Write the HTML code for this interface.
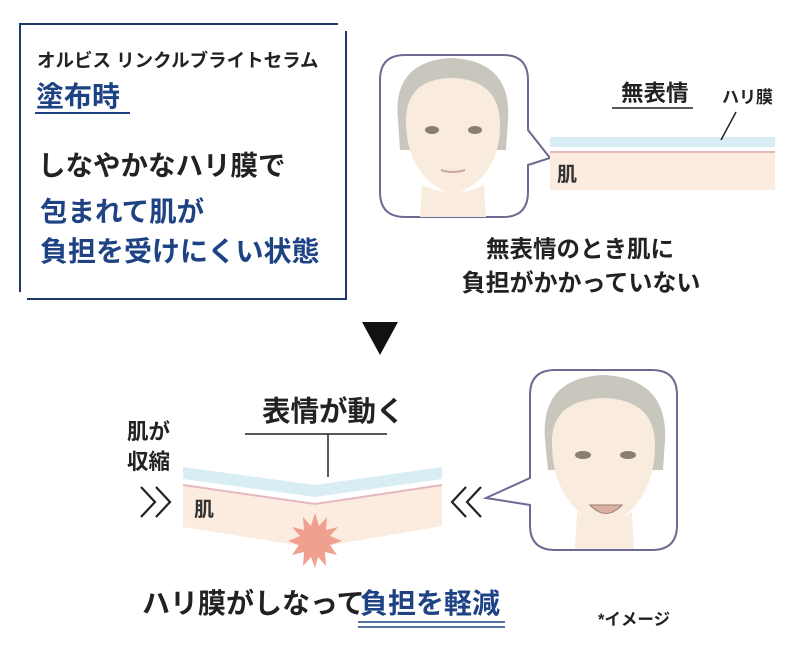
<!DOCTYPE html>
<html><head><meta charset="utf-8"><style>
html,body{margin:0;padding:0;background:#fff}
svg{display:block}
text{font-family:"Liberation Sans","Noto Sans CJK JP",sans-serif;font-weight:bold}
</style></head><body>
<svg width="800" height="650" viewBox="0 0 800 650">
<g stroke="#1f3a68" stroke-width="2" fill="none">
<line x1="19" y1="24" x2="338" y2="24"/>
<line x1="20" y1="23" x2="20" y2="292"/>
<line x1="346" y1="31" x2="346" y2="299"/>
<line x1="27" y1="299" x2="347" y2="299"/>
</g>
<text x="37" y="67" font-size="18.5" fill="#222">オルビス リンクルブライトセラム</text>
<text x="36" y="106" font-size="28" fill="#1e4384">塗布時</text>
<line x1="35" y1="113" x2="130" y2="113" stroke="#1e4384" stroke-width="2"/>
<text x="38" y="175" font-size="27.5" fill="#222">しなやかなハリ膜で</text>
<text x="40" y="221" font-size="27.5" fill="#1e4384">包まれて肌が</text>
<text x="40" y="261" font-size="28" fill="#1e4384">負担を受けにくい状態</text>

<path d="M405 55 H503 Q528 55 528 80 V130 L550 158 L528 165 V192 Q528 217 503 217 H405 Q380 217 380 192 V80 Q380 55 405 55 Z" fill="#fff" stroke="#6b6a92" stroke-width="2"/>
<g>
<path d="M398 120 Q392 62 450 58 Q512 60 508 120 L506 150 L400 150 Z" fill="#c9c6bd"/>
<path d="M406 125 Q404 78 453 78 Q500 80 500 125 Q500 178 453 195 Q408 178 406 125 Z" fill="#f9ebdd"/>
<path d="M420 217 L422 185 Q453 200 484 185 L486 217 Z" fill="#f9ebdd"/>
<ellipse cx="432" cy="130" rx="7" ry="4" fill="#8a7d72"/>
<ellipse cx="475" cy="130" rx="7" ry="4" fill="#8a7d72"/>
<path d="M441 170 Q453 174 465 170" stroke="#c9a89a" stroke-width="2" fill="none"/>
</g>
<rect x="550" y="137" width="225" height="10" fill="#d9eef4"/>
<rect x="550" y="152" width="225" height="38" fill="#fcebdf"/>
<line x1="550" y1="152" x2="775" y2="152" stroke="#e5b7c0" stroke-width="2"/>
<text x="557" y="181" font-size="20" fill="#333">肌</text>
<text x="621" y="101" font-size="22.5" fill="#222">無表情</text>
<line x1="612" y1="108" x2="693" y2="108" stroke="#222" stroke-width="1.5"/>
<text x="722" y="103" font-size="17" fill="#222">ハリ膜</text>
<line x1="736" y1="112" x2="721" y2="140" stroke="#222" stroke-width="1.5"/>
<text x="580" y="257" font-size="23.5" fill="#222" text-anchor="middle">無表情のとき肌に</text>
<text x="581" y="291" font-size="24" fill="#222" text-anchor="middle">負担がかかっていない</text>

<polygon points="362,322 398,322 380,355" fill="#111"/>

<text x="262" y="421" font-size="28.5" fill="#222">表情が動く</text>
<line x1="245" y1="434" x2="387" y2="434" stroke="#222" stroke-width="1.5"/>
<line x1="328" y1="434" x2="328" y2="477" stroke="#222" stroke-width="1.5"/>
<polygon points="183,467 315,485 442,467 442,479 315,497 183,479" fill="#d9eef4"/>
<polygon points="183,485 315,504 442,485 442,526 315,548 183,527" fill="#fcebdf"/>
<polyline points="183,485 315,504 442,485" stroke="#e5b7c0" stroke-width="2" fill="none"/>
<polygon fill="#f0a08f" points="315,513 319,526 327,517 326,530 338,527 330,536 342,541 330,545 337,555 325,552 326,566 318,557 315,568 311,557 303,566 304,552 292,555 299,545 288,541 300,536 292,527 304,530 303,517 311,526"/>
<text x="194" y="516" font-size="20" fill="#333">肌</text>
<text x="127" y="439" font-size="21.5" fill="#222">肌が</text>
<text x="127" y="469" font-size="21.5" fill="#222">収縮</text>
<g stroke="#222" stroke-width="2.2" fill="none">
<polyline points="141,487 155,502 141,517"/><polyline points="156,487 170,502 156,517"/>
<polyline points="466,487 452,502 466,517"/><polyline points="481,487 467,502 481,517"/>
</g>
<path d="M555 370 H652 Q677 370 677 395 V525 Q677 550 652 550 H555 Q530 550 530 525 V505 L486 498 L530 478 V395 Q530 370 555 370 Z" fill="#fff" stroke="#6b6a92" stroke-width="2"/>
<g>
<path d="M545 440 Q540 378 603 375 Q668 378 665 440 L663 470 L548 470 Z" fill="#c9c6bd"/>
<path d="M552 445 Q550 400 604 398 Q655 400 655 445 Q655 505 604 528 Q553 505 552 445 Z" fill="#f9ebdd"/>
<path d="M575 549 L577 512 Q604 530 632 512 L634 549 Z" fill="#f9ebdd"/>
<ellipse cx="583" cy="455" rx="8" ry="4" fill="#8a7d72"/>
<ellipse cx="628" cy="455" rx="8" ry="4" fill="#8a7d72"/>
<path d="M590 505 Q606 522 622 505 Z" fill="#d9b2a3" stroke="#a07a6e" stroke-width="1"/>
</g>
<text x="142" y="613" font-size="28" fill="#222">ハリ膜がしなって</text>
<text x="360" y="613" font-size="28" fill="#1e4384">負担を軽減</text>
<line x1="358" y1="622" x2="505" y2="622" stroke="#1e4384" stroke-width="1.5"/>
<line x1="358" y1="627" x2="505" y2="627" stroke="#1e4384" stroke-width="1.5"/>
<text x="598" y="625" font-size="16.5" fill="#222" font-weight="normal">*イメージ</text>
</svg>
</body></html>
